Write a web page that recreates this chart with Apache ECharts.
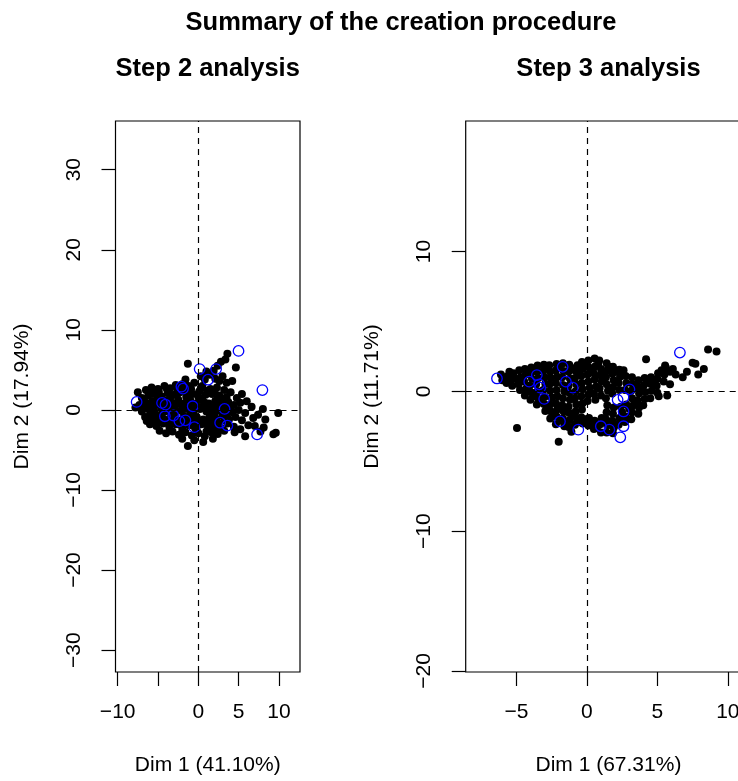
<!DOCTYPE html>
<html>
<head>
<meta charset="utf-8">
<script src="https://cdn.jsdelivr.net/npm/echarts@6/dist/echarts.min.js"></script>
<style>
html,body{margin:0;padding:0;background:#fff;overflow:hidden;width:738px;height:781px;}
#chart{width:770px;height:781px;}
</style>
</head>
<body>
<div id="chart"></div>
<script>
// ---- texts ----
const mainTitle = "Summary of the creation procedure";
const panelTitles = ["Step 2 analysis", "Step 3 analysis"];
const xNames = ["Dim 1 (41.10%)", "Dim 1 (67.31%)"];
const yNames = ["Dim 2 (17.94%)", "Dim 2 (11.71%)"];

// ---- tick values ----
const step2XTicks = [-10, -5, 0, 5, 10];
const step2XLabels = [-10, 0, 5, 10];
const step2YTicks = [-30, -20, -10, 0, 10, 20, 30];
const step3XTicks = [-5, 0, 5, 10];
const step3YTicks = [-20, -10, 0, 10];

// ---- Step 2: active individuals (black) ----
const step2Active = [
[-7.5,2.2],[-6.5,2.5],[-5.8,2.8],[-5.0,2.6],[-4.2,3.0],[-3.5,2.7],[-2.8,3.1],[-2.0,3.2],[-1.2,3.0],[-0.5,3.4],[0.5,3.0],[1.5,2.6],[2.3,2.8],[3.2,2.5],[4.0,2.2],[-1.3,5.75],[-1.6,3.8],
[0.8,3.8],[1.4,4.4],[1.9,4.9],[2.4,5.5],[2.8,6.0],[3.35,6.3],[3.6,7.0],[4.65,5.3],[3.0,4.2],[2.6,3.6],[3.5,3.4],[4.2,3.6],[1.0,4.8],[2.1,3.9],[0.3,4.2],
[-7.0,1.5],[-6.2,1.8],[-5.4,2.0],[-4.6,1.7],[-3.8,2.1],[-3.0,1.9],[-2.3,2.2],[-1.5,2.3],[-0.7,2.0],[0.1,2.3],[0.9,1.9],[1.7,2.0],[2.6,1.8],[3.5,1.6],[4.77,1.5],[6.0,1.07],[5.4,2.0],
[-7.3,0.6],[-6.5,0.9],[-5.7,1.1],[-4.9,0.7],[-4.1,1.2],[-3.3,0.9],[-2.5,1.3],[-1.8,0.8],[-1.0,1.2],[-0.3,0.8],[0.5,1.2],[1.3,0.8],[2.1,1.1],[2.9,0.7],[3.7,1.0],[4.4,0.6],[5.2,0.9],
[-7.0,-0.2],[-6.2,0.1],[-5.4,-0.3],[-4.6,0.2],[-3.8,-0.2],[-3.0,0.3],[-2.2,-0.1],[-1.4,0.2],[-0.6,-0.3],[0.2,0.1],[1.0,-0.2],[1.8,0.3],[2.6,-0.1],[3.4,0.2],[4.2,-0.3],[5.0,0.0],[5.8,-0.37],[6.6,0.4],[8.0,0.1],[9.9,-0.37],
[-6.6,-0.9],[-5.8,-1.1],[-5.0,-0.8],[-4.2,-1.2],[-3.4,-0.9],[-2.6,-1.3],[-1.8,-0.8],[-1.0,-1.1],[-0.2,-0.9],[0.6,-1.2],[1.4,-0.8],[2.2,-1.1],[3.0,-0.8],[3.8,-1.2],[4.6,-0.9],[5.4,-1.3],[6.8,-1.0],[8.3,-1.2],[7.4,-0.6],
[-6.0,-1.8],[-5.2,-2.0],[-4.4,-1.7],[-3.6,-2.1],[-2.8,-1.8],[-2.0,-2.2],[-1.2,-1.9],[-0.4,-2.3],[0.4,-1.8],[1.2,-2.2],[2.0,-1.9],[2.8,-2.3],[3.6,-1.7],[4.4,-2.1],[5.2,-2.4],[6.2,-1.9],[7.0,-2.0],[8.1,-2.2],[9.6,-2.85],
[-4.8,-2.6],[-4.0,-2.9],[-3.2,-2.7],[-2.4,-3.1],[-1.6,-2.8],[-0.8,-3.2],[0.0,-2.9],[0.8,-3.3],[1.6,-2.8],[2.4,-3.0],[3.2,-2.6],[4.5,-2.8],[5.8,-3.3],[9.3,-3.05],[7.7,-2.7],
[-1.3,-4.5],[-0.5,-3.8],[0.6,-4.0],[-2.0,-3.6],[1.8,-3.6],
[-5.0,1.5],[-4.0,0.5],[-3.0,-0.5],[-2.0,0.6],[-1.0,-0.4],[0.0,1.6],[1.0,0.4],[2.0,-0.5],[3.0,1.4],[-6.0,-0.6],[-5.5,0.4],[-4.5,-0.5],[-3.5,1.5],[-2.5,-1.8],[-1.5,1.6],[-0.5,-1.6],[0.5,0.4],[1.5,-1.5],[2.5,0.4],[3.5,-0.5],[-6.8,1.2],[-7.8,0.3],
[-6.4,-1.4],[-5.6,-1.5],[-4.8,-1.4],[-3.9,-1.6],[-3.1,-1.4],[-2.2,-1.5],[-1.4,-1.4],[-0.7,-1.9],[0.1,-1.4],[0.9,-1.6],[1.8,-1.2],[2.6,-1.7],[3.3,-1.3],
[-6.9,0.3],[-6.1,0.6],[-5.3,1.0],[-4.4,1.0],[-3.6,0.4],[-2.7,0.7],[-1.7,0.1],[-0.9,0.5],[-0.1,0.3],[0.8,0.9],[1.6,-0.3],[2.4,1.4],[3.1,-0.2],[4.0,0.3],
[-6.0,2.2],[-4.9,2.3],[-3.9,2.6],[-2.6,2.6],[-1.8,2.8],[-0.9,2.6],[0.3,2.7],[1.1,2.4],[2.0,2.3],[-3.5,-2.5],[-2.0,-2.7],[-0.2,-2.5],[1.0,-2.7],[2.0,-2.6]
];

// ---- Step 2: supplementary individuals (blue) ----
const step2Sup = [
[4.98,7.37],[0.16,5.1],[2.2,5.1],[1.2,3.77],[-1.9,2.65],[-2.1,2.9],[7.94,2.48],[-7.65,1.0],[-4.5,0.87],[-4.07,0.66],
[-0.7,0.46],[3.25,0.12],[-4.15,-0.79],[-3.1,-0.7],[-2.35,-1.4],[-1.6,-1.3],[-0.5,-2.15],[2.7,-1.6],[3.6,-1.95],[7.28,-3.06]
];

// ---- Step 3: active individuals (black) ----
const step3Active = [
[-6.1,1.2],[-6.0,0.8],
[-5.6,1.1],[-5.7,0.6],[-5.5,1.4],
[-5.2,1.3],[-5.1,0.9],[-5.3,0.4],[-4.96,-2.62],
[-4.8,1.5],[-4.7,1.0],[-4.85,0.5],[-4.75,0.1],
[-4.4,1.6],[-4.35,1.2],[-4.45,0.7],[-4.3,0.2],[-4.4,-0.3],
[-3.95,1.7],[-4.0,1.3],[-3.9,0.9],[-4.05,0.4],[-3.9,-0.1],[-4.0,-0.6],
[-3.5,1.85],[-3.55,1.4],[-3.45,0.95],[-3.6,0.5],[-3.5,0.0],[-3.45,-0.5],[-3.55,-0.95],
[-3.05,1.9],[-3.1,1.45],[-3.0,1.0],[-2.95,0.55],[-3.1,0.1],[-3.0,-0.4],[-3.05,-0.9],[-2.95,-1.4],
[-2.67,1.87],[-2.6,1.4],[-2.55,0.95],[-2.65,0.5],[-2.6,0.05],[-2.5,-0.45],[-2.6,-0.95],[-2.55,-1.45],[-2.6,-1.95],
[-2.15,1.95],[-2.2,1.5],[-2.1,1.05],[-2.2,0.6],[-2.15,0.1],[-2.1,-0.35],[-2.2,-0.85],[-2.1,-1.3],[-2.15,-1.8],[-2.2,-2.35],[-2.0,-3.6],
[-1.7,2.0],[-1.65,1.45],[-1.75,1.0],[-1.7,0.45],[-1.6,0.0],[-1.7,-0.5],[-1.75,-1.0],[-1.65,-1.45],[-1.7,-1.95],[-1.6,-2.5],
[-1.25,1.9],[-1.3,1.4],[-1.2,0.9],[-1.3,0.4],[-1.25,-0.1],[-1.2,-0.6],[-1.3,-1.1],[-1.25,-1.55],[-1.2,-2.05],[-1.3,-2.55],[-1.1,-2.9],
[-0.66,1.87],[-0.8,1.45],[-0.85,0.95],[-0.75,0.5],[-0.8,0.0],[-0.85,-0.5],[-0.75,-0.95],[-0.8,-1.45],[-0.7,-1.95],[-0.85,-2.4],
[-0.35,2.1],[-0.3,1.6],[-0.4,1.1],[-0.35,0.6],[-0.3,0.15],[-0.4,-0.35],[-0.3,-0.85],[-0.35,-1.3],[-0.4,-1.85],[-0.3,-2.3],
[0.1,2.2],[0.15,1.7],[0.05,1.2],[0.1,0.7],[0.2,0.25],[0.1,-0.25],[0.05,-0.7],[0.15,-1.9],[0.1,-2.45],
[0.55,2.35],[0.6,1.8],[0.5,1.3],[0.55,0.85],[0.65,0.35],[0.5,-0.15],[0.6,-0.6],[0.55,-2.1],[0.5,-2.7],
[0.88,2.2],[1.0,1.6],[0.95,1.15],[1.05,0.7],[0.9,0.2],[1.0,-0.3],[1.05,-1.9],[0.95,-2.35],[1.0,-2.95],
[1.4,2.0],[1.45,1.5],[1.35,1.0],[1.4,0.5],[1.5,0.05],[1.35,-0.5],[1.45,-1.0],[1.4,-1.5],[1.35,-2.0],[1.45,-2.45],[1.4,-2.95],
[1.85,1.75],[1.8,1.25],[1.9,0.8],[1.85,0.3],[1.8,-0.15],[1.9,-1.15],[1.85,-1.6],[1.8,-2.1],[1.9,-2.6],[1.85,-3.0],
[2.3,1.55],[2.35,1.05],[2.25,0.6],[2.3,0.1],[2.4,-1.1],[2.3,-1.9],[2.25,-2.4],
[2.6,1.5],[2.75,1.1],[2.8,0.6],[2.7,0.1],[2.8,-0.95],[2.75,-1.8],[2.7,-2.2],
[3.2,1.0],[3.25,0.5],[3.15,0.05],[3.2,-0.5],[3.3,-1.0],[3.2,-1.5],[3.15,-2.0],
[3.65,0.8],[3.6,0.35],[3.7,-0.15],[3.6,-0.65],[3.7,-1.15],[3.65,-1.6],
[4.2,2.3],[4.1,0.95],[4.05,0.45],[4.15,-0.05],[4.1,-0.55],[4.0,-1.0],
[4.55,1.0],[4.5,0.55],[4.6,0.05],[4.5,-0.5],
[5.0,0.9],[5.05,1.3],[4.95,0.4],[5.0,-0.1],[5.1,-0.35],
[5.6,1.7],[5.55,1.85],[5.5,1.2],[5.45,0.7],[5.7,-0.3],
[5.9,0.5],[5.9,1.4],[6.1,1.6],
[7.5,2.05],[7.7,1.98],[7.9,1.2],[8.3,1.6],[8.6,3.0],[9.2,2.85],[6.8,1.0],[7.1,1.4],
[-5.9,1.0],[-5.4,0.8],[-4.6,0.8],[-4.2,0.0],[-3.75,-0.35],[-3.3,-0.7],[-2.8,-1.15],[-2.4,-1.7],[-1.9,-2.1],[-1.45,-2.25],
[-1.0,-1.75],[-0.55,-2.15],[-0.1,-2.0],[0.35,-2.3],[0.75,-2.5],[1.2,-2.2],[1.65,-2.3],[2.05,-2.35],[2.5,-1.5],[3.0,-1.25],
[-2.85,1.7],[-1.95,1.75],[-1.0,1.65],[-0.1,1.95],[0.8,1.95],[1.6,1.75],[2.05,1.4],[-0.55,1.35],[0.3,1.45],[1.2,1.25],
[5.3,1.5],[6.3,1.2],[4.8,0.65],[4.3,0.7],[3.9,0.15],[3.4,0.25]
];

// ---- Step 3: supplementary individuals (blue) ----
const step3Sup = [
[6.6,2.77],[-6.38,0.92],[-3.55,1.16],[-4.09,0.69],[-3.38,0.5],[-3.31,0.26],[-3.03,-0.54],[-1.72,1.75],[-1.49,0.69],[-1.0,0.26],
[2.18,-0.61],[2.6,-0.43],[3.02,0.14],[2.6,-1.44],[2.6,-2.5],[-1.91,-2.15],[-0.61,-2.74],[0.99,-2.5],[1.59,-2.74],[2.37,-3.29]
];

const FONT = '"Liberation Sans", Arial, Helvetica, sans-serif';
const fmt = v => (v < 0 ? '\u2212' + Math.abs(v) : String(v));

function xAxisCfg(grid, min, max, ticks, labels, name) {
  return {
    type: 'value', gridIndex: grid, min: min, max: max,
    name: name, nameLocation: 'middle', nameGap: 83,
    nameTextStyle: { fontSize: 21, color: '#000', fontFamily: FONT },
    axisLine: { show: false, onZero: false },
    axisTick: { show: true, length: 14, customValues: ticks, lineStyle: { color: '#000', width: 1.2 } },
    axisLabel: { show: true, customValues: labels, margin: 30, fontSize: 21, color: '#000', fontFamily: FONT, formatter: fmt },
    splitLine: { show: false }
  };
}
function yAxisCfg(grid, min, max, ticks, name) {
  return {
    type: 'value', gridIndex: grid, min: min, max: max,
    name: name, nameLocation: 'middle', nameGap: 83,
    nameTextStyle: { fontSize: 21, color: '#000', fontFamily: FONT },
    axisLine: { show: false, onZero: false },
    axisTick: { show: true, length: 14, customValues: ticks, lineStyle: { color: '#000', width: 1.2 } },
    axisLabel: { show: true, customValues: ticks, rotate: 90, margin: 31, fontSize: 21, color: '#000', fontFamily: FONT, formatter: fmt },
    splitLine: { show: false }
  };
}
function refLines(xi, yi) {
  return {
    type: 'scatter', xAxisIndex: xi, yAxisIndex: yi, data: [], z: 1, silent: true,
    markLine: {
      silent: true, symbol: ['none', 'none'], animation: false,
      label: { show: false },
      lineStyle: { type: [6, 5], color: '#000', width: 1.2 },
      emphasis: { disabled: true },
      data: [{ xAxis: 0 }, { yAxis: 0 }]
    }
  };
}
function activeSeries(xi, yi, data) {
  return { type: 'scatter', xAxisIndex: xi, yAxisIndex: yi, data: data, z: 2, symbol: 'circle', symbolSize: 8,
    itemStyle: { color: '#000', opacity: 1 }, silent: true };
}
function supSeries(xi, yi, data) {
  return { type: 'scatter', xAxisIndex: xi, yAxisIndex: yi, data: data, z: 3, symbol: 'circle', symbolSize: 10.5,
    itemStyle: { color: 'rgba(0,0,0,0)', borderColor: '#0000FF', borderWidth: 1.3, opacity: 1 }, silent: true };
}

const chart = echarts.init(document.getElementById('chart'), null, { renderer: 'canvas' });
chart.setOption({
  animation: false,
  backgroundColor: '#fff',
  textStyle: { fontFamily: FONT },
  graphic: [
    { type: 'text', x: 401, y: 23, style: { text: mainTitle, font: 'bold 25.5px ' + FONT, fill: '#000', textAlign: 'center', textVerticalAlign: 'middle' } },
    { type: 'text', x: 207.7, y: 69, style: { text: panelTitles[0], font: 'bold 25.5px ' + FONT, fill: '#000', textAlign: 'center', textVerticalAlign: 'middle' } },
    { type: 'text', x: 608.5, y: 69, style: { text: panelTitles[1], font: 'bold 25.5px ' + FONT, fill: '#000', textAlign: 'center', textVerticalAlign: 'middle' } }
  ],
  grid: [
    { left: 115.5, top: 121, width: 184.5, height: 555, show: true, borderColor: '#000', borderWidth: 1.2, backgroundColor: 'transparent', containLabel: false },
    { left: 465.7, top: 121, width: 285.5, height: 555, show: true, borderColor: '#000', borderWidth: 1.2, backgroundColor: 'transparent', containLabel: false }
  ],
  xAxis: [
    xAxisCfg(0, -10.27, 12.6, step2XTicks, step2XLabels, xNames[0]),
    xAxisCfg(1, -8.6, 11.66, step3XTicks, step3XTicks, xNames[1])
  ],
  yAxis: [
    yAxisCfg(0, -32.73, 36.08, step2YTicks, yNames[0]),
    yAxisCfg(1, -20.08, 19.34, step3YTicks, yNames[1])
  ],
  series: [
    refLines(0, 0), activeSeries(0, 0, step2Active), supSeries(0, 0, step2Sup),
    refLines(1, 1), activeSeries(1, 1, step3Active), supSeries(1, 1, step3Sup)
  ]
});
</script>
</body>
</html>
